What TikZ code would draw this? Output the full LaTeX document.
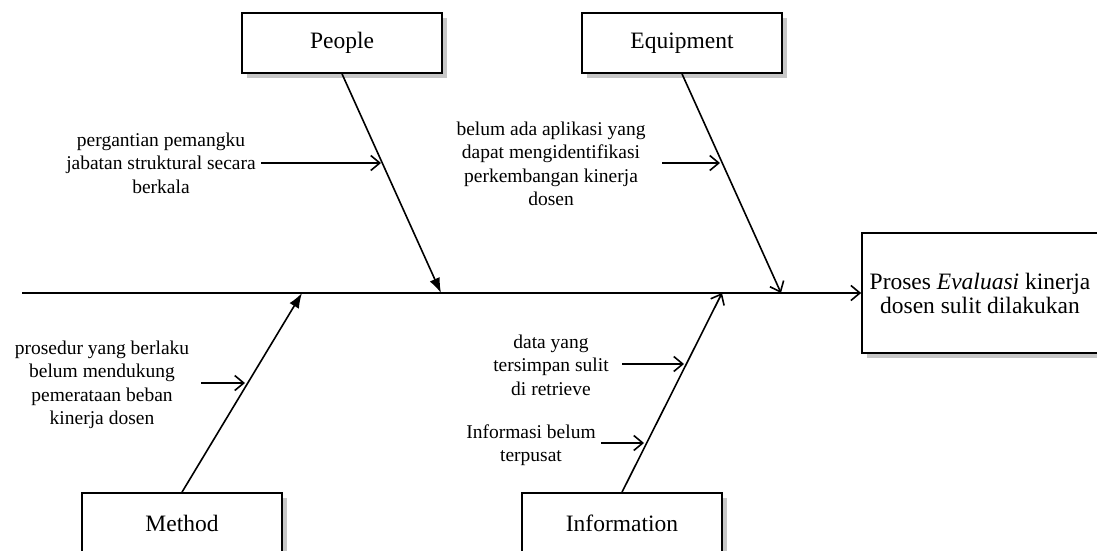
\documentclass[tikz,border=0pt]{standalone}
\usepackage{fontspec}
\setmainfont{Liberation Serif}
\usetikzlibrary{arrows.meta,shadows}
\begin{document}
\begin{tikzpicture}[x=1pt,y=-1pt,
  cat/.style={draw,line width=1.7pt,fill=white,minimum width=200pt,minimum height=60pt,font=\fontsize{23.5}{24}\selectfont,
    drop shadow={shadow xshift=5pt,shadow yshift=-5pt,fill=black!22,opacity=1}},
  cause/.style={align=center,inner sep=0pt,font=\fontsize{19.5}{23.5}\selectfont},
  bone/.style={line width=1.6pt},
  full/.style={bone,-{Latex[length=15pt,width=11pt]}},
  open/.style={bone,-{Straight Barb[length=9pt,width=15pt]}}]
\useasboundingbox (0,0) rectangle (1097,551);
\node[cat] (peo) at (342,43) {People};
\node[cat] (eq) at (682,43) {Equipment};
\node[cat] (met) at (182,523) {Method};
\node[cat] (inf) at (622,523) {Information};
\node[cat,minimum width=236pt,minimum height=120pt,align=center] (eff) at (980,293) {Proses \textit{Evaluasi} kinerja\\dosen sulit dilakukan};
\coordinate (tail) at (22,293);
\coordinate (pTip) at (441,293);
\coordinate (eTip) at (781,293);
\coordinate (mTip) at (302,293);
\coordinate (iTip) at (722,293);
\draw[open] (tail) -- (eff.west);
\draw[full] (peo.south) -- (pTip);
\draw[open] (eq.south) -- (eTip);
\draw[full] (met.north) -- (mTip);
\draw[open] (inf.north) -- (iTip);
\node[cause] (pg) at (161,163) {pergantian pemangku\\jabatan struktural secara\\berkala};
\node[cause] (ba) at (551,164) {belum ada aplikasi yang\\dapat mengidentifikasi\\perkembangan kinerja\\dosen};
\node[cause] (pr) at (102,385) {prosedur yang berlaku\\belum mendukung\\pemerataan beban\\kinerja dosen};
\node[cause] (dt) at (551,365) {data yang\\tersimpan sulit\\di retrieve};
\node[cause] (ib) at (531,445) {Informasi belum\\terpusat};
\coordinate (pgA) at (261,163);
\coordinate (pgB) at (381,163);
\coordinate (baA) at (662,163);
\coordinate (baB) at (720,163);
\coordinate (prA) at (201,383);
\coordinate (prB) at (245,383);
\coordinate (dtA) at (622,364);
\coordinate (dtB) at (684,364);
\coordinate (ibA) at (601,443);
\coordinate (ibB) at (644,443);
\draw[open] (pgA) -- (pgB);
\draw[open] (baA) -- (baB);
\draw[open] (prA) -- (prB);
\draw[open] (dtA) -- (dtB);
\draw[open] (ibA) -- (ibB);
\end{tikzpicture}
\end{document}
